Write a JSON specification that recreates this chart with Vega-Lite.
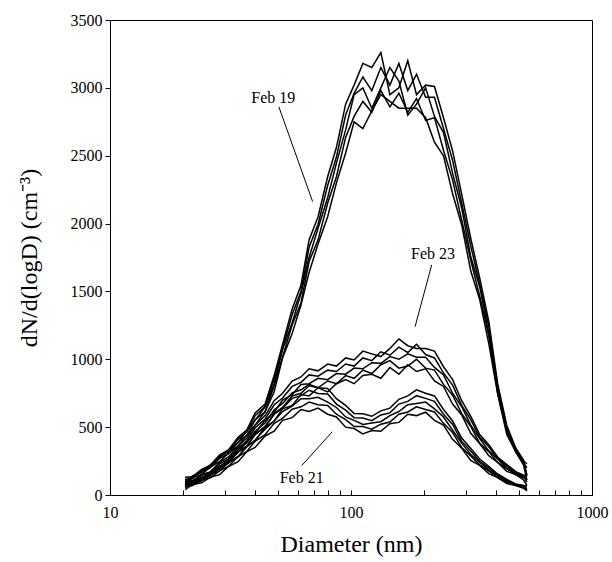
{
  "$schema": "https://vega.github.io/schema/vega-lite/v6.json",
  "width": 482,
  "height": 475,
  "autosize": {"type": "none"},
  "padding": {"left": 110, "top": 20, "right": 20, "bottom": 67},
  "background": "white",
  "config": {
    "view": {"stroke": "black", "strokeWidth": 1},
    "axis": {"domainColor": "black", "tickColor": "black", "grid": false}
  },
  "datasets": {
    "curves": [
      {"s":"19a","d":20.5,"v":80},{"s":"19a","d":22,"v":130},{"s":"19a","d":24,"v":150},{"s":"19a","d":26,"v":205},{"s":"19a","d":28.5,"v":245},{"s":"19a","d":31,"v":310},{"s":"19a","d":34,"v":360},{"s":"19a","d":37,"v":445},{"s":"19a","d":40,"v":515},{"s":"19a","d":44,"v":615},{"s":"19a","d":48,"v":760},{"s":"19a","d":52,"v":1010},{"s":"19a","d":57,"v":1190},{"s":"19a","d":62,"v":1400},{"s":"19a","d":67,"v":1640},{"s":"19a","d":73,"v":1850},{"s":"19a","d":80,"v":2050},{"s":"19a","d":87,"v":2300},{"s":"19a","d":95,"v":2520},{"s":"19a","d":103,"v":2750},{"s":"19a","d":112,"v":2700},{"s":"19a","d":122,"v":2830},{"s":"19a","d":133,"v":2950},{"s":"19a","d":145,"v":2900},{"s":"19a","d":158,"v":2850},{"s":"19a","d":172,"v":2850},{"s":"19a","d":187,"v":2850},{"s":"19a","d":204,"v":2780},{"s":"19a","d":222,"v":2600},{"s":"19a","d":242,"v":2500},{"s":"19a","d":264,"v":2220},{"s":"19a","d":288,"v":1990},{"s":"19a","d":314,"v":1650},{"s":"19a","d":342,"v":1440},{"s":"19a","d":373,"v":1115},{"s":"19a","d":406,"v":745},{"s":"19a","d":443,"v":445},{"s":"19a","d":483,"v":318},{"s":"19a","d":520,"v":220},{"s":"19a","d":537,"v":110},
      {"s":"19b","d":20.5,"v":110},{"s":"19b","d":22,"v":120},{"s":"19b","d":24,"v":172},{"s":"19b","d":26,"v":198},{"s":"19b","d":28.5,"v":270},{"s":"19b","d":31,"v":302},{"s":"19b","d":34,"v":388},{"s":"19b","d":37,"v":440},{"s":"19b","d":40,"v":555},{"s":"19b","d":44,"v":612},{"s":"19b","d":48,"v":805},{"s":"19b","d":52,"v":1015},{"s":"19b","d":57,"v":1255},{"s":"19b","d":62,"v":1415},{"s":"19b","d":67,"v":1720},{"s":"19b","d":73,"v":1880},{"s":"19b","d":80,"v":2150},{"s":"19b","d":87,"v":2345},{"s":"19b","d":95,"v":2635},{"s":"19b","d":103,"v":2790},{"s":"19b","d":112,"v":2900},{"s":"19b","d":122,"v":2820},{"s":"19b","d":133,"v":2980},{"s":"19b","d":145,"v":2860},{"s":"19b","d":158,"v":2960},{"s":"19b","d":172,"v":2820},{"s":"19b","d":187,"v":2920},{"s":"19b","d":204,"v":2760},{"s":"19b","d":222,"v":2780},{"s":"19b","d":242,"v":2540},{"s":"19b","d":264,"v":2320},{"s":"19b","d":288,"v":2025},{"s":"19b","d":314,"v":1730},{"s":"19b","d":342,"v":1465},{"s":"19b","d":373,"v":1175},{"s":"19b","d":406,"v":750},{"s":"19b","d":443,"v":470},{"s":"19b","d":483,"v":315},{"s":"19b","d":520,"v":238},{"s":"19b","d":537,"v":200},
      {"s":"19c","d":20.5,"v":95},{"s":"19c","d":22,"v":140},{"s":"19c","d":24,"v":165},{"s":"19c","d":26,"v":220},{"s":"19c","d":28.5,"v":275},{"s":"19c","d":31,"v":325},{"s":"19c","d":34,"v":385},{"s":"19c","d":37,"v":475},{"s":"19c","d":40,"v":550},{"s":"19c","d":44,"v":650},{"s":"19c","d":48,"v":815},{"s":"19c","d":52,"v":1070},{"s":"19c","d":57,"v":1270},{"s":"19c","d":62,"v":1485},{"s":"19c","d":67,"v":1750},{"s":"19c","d":73,"v":1965},{"s":"19c","d":80,"v":2190},{"s":"19c","d":87,"v":2445},{"s":"19c","d":95,"v":2690},{"s":"19c","d":103,"v":2950},{"s":"19c","d":112,"v":3000},{"s":"19c","d":122,"v":2850},{"s":"19c","d":133,"v":3000},{"s":"19c","d":145,"v":3150},{"s":"19c","d":158,"v":3050},{"s":"19c","d":172,"v":2800},{"s":"19c","d":187,"v":2880},{"s":"19c","d":204,"v":3000},{"s":"19c","d":222,"v":2790},{"s":"19c","d":242,"v":2670},{"s":"19c","d":264,"v":2370},{"s":"19c","d":288,"v":2115},{"s":"19c","d":314,"v":1755},{"s":"19c","d":342,"v":1535},{"s":"19c","d":373,"v":1190},{"s":"19c","d":406,"v":795},{"s":"19c","d":443,"v":475},{"s":"19c","d":483,"v":338},{"s":"19c","d":520,"v":235},{"s":"19c","d":537,"v":150},
      {"s":"19d","d":20.5,"v":115},{"s":"19d","d":22,"v":128},{"s":"19d","d":24,"v":182},{"s":"19d","d":26,"v":210},{"s":"19d","d":28.5,"v":285},{"s":"19d","d":31,"v":322},{"s":"19d","d":34,"v":410},{"s":"19d","d":37,"v":468},{"s":"19d","d":40,"v":585},{"s":"19d","d":44,"v":652},{"s":"19d","d":48,"v":855},{"s":"19d","d":52,"v":1080},{"s":"19d","d":57,"v":1330},{"s":"19d","d":62,"v":1500},{"s":"19d","d":67,"v":1825},{"s":"19d","d":73,"v":1995},{"s":"19d","d":80,"v":2280},{"s":"19d","d":87,"v":2490},{"s":"19d","d":95,"v":2800},{"s":"19d","d":103,"v":2960},{"s":"19d","d":112,"v":3080},{"s":"19d","d":122,"v":2980},{"s":"19d","d":133,"v":3150},{"s":"19d","d":145,"v":3020},{"s":"19d","d":158,"v":3180},{"s":"19d","d":172,"v":2980},{"s":"19d","d":187,"v":3100},{"s":"19d","d":204,"v":2930},{"s":"19d","d":222,"v":2930},{"s":"19d","d":242,"v":2700},{"s":"19d","d":264,"v":2465},{"s":"19d","d":288,"v":2150},{"s":"19d","d":314,"v":1835},{"s":"19d","d":342,"v":1555},{"s":"19d","d":373,"v":1245},{"s":"19d","d":406,"v":795},{"s":"19d","d":443,"v":498},{"s":"19d","d":483,"v":335},{"s":"19d","d":520,"v":250},{"s":"19d","d":537,"v":230},
      {"s":"19e","d":20.5,"v":130},{"s":"19e","d":22,"v":135},{"s":"19e","d":24,"v":188},{"s":"19e","d":26,"v":218},{"s":"19e","d":28.5,"v":295},{"s":"19e","d":31,"v":332},{"s":"19e","d":34,"v":425},{"s":"19e","d":37,"v":480},{"s":"19e","d":40,"v":605},{"s":"19e","d":44,"v":670},{"s":"19e","d":48,"v":880},{"s":"19e","d":52,"v":1110},{"s":"19e","d":57,"v":1370},{"s":"19e","d":62,"v":1545},{"s":"19e","d":67,"v":1880},{"s":"19e","d":73,"v":2050},{"s":"19e","d":80,"v":2345},{"s":"19e","d":87,"v":2560},{"s":"19e","d":95,"v":2880},{"s":"19e","d":103,"v":3020},{"s":"19e","d":112,"v":3180},{"s":"19e","d":122,"v":3150},{"s":"19e","d":133,"v":3260},{"s":"19e","d":145,"v":2950},{"s":"19e","d":158,"v":3000},{"s":"19e","d":172,"v":3200},{"s":"19e","d":187,"v":2950},{"s":"19e","d":204,"v":3020},{"s":"19e","d":222,"v":3010},{"s":"19e","d":242,"v":2780},{"s":"19e","d":264,"v":2535},{"s":"19e","d":288,"v":2215},{"s":"19e","d":314,"v":1890},{"s":"19e","d":342,"v":1600},{"s":"19e","d":373,"v":1280},{"s":"19e","d":406,"v":820},{"s":"19e","d":443,"v":512},{"s":"19e","d":483,"v":345},{"s":"19e","d":520,"v":258},{"s":"19e","d":537,"v":140},
      {"s":"23a","d":20.5,"v":60},{"s":"23a","d":22,"v":95},{"s":"23a","d":24,"v":110},{"s":"23a","d":26,"v":150},{"s":"23a","d":28.5,"v":180},{"s":"23a","d":31,"v":240},{"s":"23a","d":34,"v":280},{"s":"23a","d":37,"v":360},{"s":"23a","d":40,"v":400},{"s":"23a","d":44,"v":500},{"s":"23a","d":48,"v":545},{"s":"23a","d":52,"v":635},{"s":"23a","d":57,"v":660},{"s":"23a","d":62,"v":740},{"s":"23a","d":67,"v":730},{"s":"23a","d":73,"v":790},{"s":"23a","d":80,"v":760},{"s":"23a","d":87,"v":820},{"s":"23a","d":95,"v":850},{"s":"23a","d":103,"v":820},{"s":"23a","d":112,"v":880},{"s":"23a","d":122,"v":890},{"s":"23a","d":133,"v":860},{"s":"23a","d":145,"v":940},{"s":"23a","d":158,"v":890},{"s":"23a","d":172,"v":960},{"s":"23a","d":187,"v":910},{"s":"23a","d":204,"v":930},{"s":"23a","d":222,"v":840},{"s":"23a","d":242,"v":800},{"s":"23a","d":264,"v":670},{"s":"23a","d":288,"v":590},{"s":"23a","d":314,"v":455},{"s":"23a","d":342,"v":380},{"s":"23a","d":373,"v":290},{"s":"23a","d":406,"v":240},{"s":"23a","d":443,"v":175},{"s":"23a","d":483,"v":150},{"s":"23a","d":520,"v":112},{"s":"23a","d":537,"v":70},
      {"s":"23b","d":20.5,"v":85},{"s":"23b","d":22,"v":90},{"s":"23b","d":24,"v":130},{"s":"23b","d":26,"v":145},{"s":"23b","d":28.5,"v":210},{"s":"23b","d":31,"v":240},{"s":"23b","d":34,"v":315},{"s":"23b","d":37,"v":360},{"s":"23b","d":40,"v":450},{"s":"23b","d":44,"v":505},{"s":"23b","d":48,"v":600},{"s":"23b","d":52,"v":645},{"s":"23b","d":57,"v":730},{"s":"23b","d":62,"v":750},{"s":"23b","d":67,"v":805},{"s":"23b","d":73,"v":790},{"s":"23b","d":80,"v":840},{"s":"23b","d":87,"v":820},{"s":"23b","d":95,"v":880},{"s":"23b","d":103,"v":860},{"s":"23b","d":112,"v":920},{"s":"23b","d":122,"v":895},{"s":"23b","d":133,"v":960},{"s":"23b","d":145,"v":990},{"s":"23b","d":158,"v":935},{"s":"23b","d":172,"v":950},{"s":"23b","d":187,"v":1000},{"s":"23b","d":204,"v":935},{"s":"23b","d":222,"v":920},{"s":"23b","d":242,"v":815},{"s":"23b","d":264,"v":735},{"s":"23b","d":288,"v":600},{"s":"23b","d":314,"v":505},{"s":"23b","d":342,"v":380},{"s":"23b","d":373,"v":320},{"s":"23b","d":406,"v":240},{"s":"23b","d":443,"v":195},{"s":"23b","d":483,"v":148},{"s":"23b","d":520,"v":128},{"s":"23b","d":537,"v":120},
      {"s":"23c","d":20.5,"v":70},{"s":"23c","d":22,"v":105},{"s":"23c","d":24,"v":125},{"s":"23c","d":26,"v":165},{"s":"23c","d":28.5,"v":205},{"s":"23c","d":31,"v":265},{"s":"23c","d":34,"v":315},{"s":"23c","d":37,"v":395},{"s":"23c","d":40,"v":455},{"s":"23c","d":44,"v":550},{"s":"23c","d":48,"v":610},{"s":"23c","d":52,"v":700},{"s":"23c","d":57,"v":740},{"s":"23c","d":62,"v":815},{"s":"23c","d":67,"v":820},{"s":"23c","d":73,"v":860},{"s":"23c","d":80,"v":850},{"s":"23c","d":87,"v":895},{"s":"23c","d":95,"v":890},{"s":"23c","d":103,"v":935},{"s":"23c","d":112,"v":930},{"s":"23c","d":122,"v":975},{"s":"23c","d":133,"v":970},{"s":"23c","d":145,"v":1020},{"s":"23c","d":158,"v":1000},{"s":"23c","d":172,"v":1040},{"s":"23c","d":187,"v":1015},{"s":"23c","d":204,"v":1015},{"s":"23c","d":222,"v":940},{"s":"23c","d":242,"v":885},{"s":"23c","d":264,"v":750},{"s":"23c","d":288,"v":650},{"s":"23c","d":314,"v":515},{"s":"23c","d":342,"v":415},{"s":"23c","d":373,"v":325},{"s":"23c","d":406,"v":265},{"s":"23c","d":443,"v":198},{"s":"23c","d":483,"v":162},{"s":"23c","d":520,"v":128},{"s":"23c","d":537,"v":140},
      {"s":"23d","d":20.5,"v":95},{"s":"23d","d":22,"v":100},{"s":"23d","d":24,"v":145},{"s":"23d","d":26,"v":160},{"s":"23d","d":28.5,"v":230},{"s":"23d","d":31,"v":265},{"s":"23d","d":34,"v":345},{"s":"23d","d":37,"v":400},{"s":"23d","d":40,"v":495},{"s":"23d","d":44,"v":560},{"s":"23d","d":48,"v":665},{"s":"23d","d":52,"v":715},{"s":"23d","d":57,"v":800},{"s":"23d","d":62,"v":830},{"s":"23d","d":67,"v":885},{"s":"23d","d":73,"v":875},{"s":"23d","d":80,"v":920},{"s":"23d","d":87,"v":910},{"s":"23d","d":95,"v":965},{"s":"23d","d":103,"v":950},{"s":"23d","d":112,"v":1010},{"s":"23d","d":122,"v":990},{"s":"23d","d":133,"v":1055},{"s":"23d","d":145,"v":1030},{"s":"23d","d":158,"v":1090},{"s":"23d","d":172,"v":1050},{"s":"23d","d":187,"v":1110},{"s":"23d","d":204,"v":1035},{"s":"23d","d":222,"v":1010},{"s":"23d","d":242,"v":900},{"s":"23d","d":264,"v":810},{"s":"23d","d":288,"v":660},{"s":"23d","d":314,"v":555},{"s":"23d","d":342,"v":425},{"s":"23d","d":373,"v":355},{"s":"23d","d":406,"v":268},{"s":"23d","d":443,"v":215},{"s":"23d","d":483,"v":165},{"s":"23d","d":520,"v":140},{"s":"23d","d":537,"v":95},
      {"s":"23e","d":20.5,"v":110},{"s":"23e","d":22,"v":105},{"s":"23e","d":24,"v":150},{"s":"23e","d":26,"v":170},{"s":"23e","d":28.5,"v":240},{"s":"23e","d":31,"v":280},{"s":"23e","d":34,"v":360},{"s":"23e","d":37,"v":420},{"s":"23e","d":40,"v":515},{"s":"23e","d":44,"v":585},{"s":"23e","d":48,"v":695},{"s":"23e","d":52,"v":750},{"s":"23e","d":57,"v":840},{"s":"23e","d":62,"v":870},{"s":"23e","d":67,"v":930},{"s":"23e","d":73,"v":915},{"s":"23e","d":80,"v":965},{"s":"23e","d":87,"v":950},{"s":"23e","d":95,"v":1010},{"s":"23e","d":103,"v":995},{"s":"23e","d":112,"v":1060},{"s":"23e","d":122,"v":1040},{"s":"23e","d":133,"v":1020},{"s":"23e","d":145,"v":1080},{"s":"23e","d":158,"v":1150},{"s":"23e","d":172,"v":1100},{"s":"23e","d":187,"v":1080},{"s":"23e","d":204,"v":1080},{"s":"23e","d":222,"v":1060},{"s":"23e","d":242,"v":945},{"s":"23e","d":264,"v":850},{"s":"23e","d":288,"v":695},{"s":"23e","d":314,"v":580},{"s":"23e","d":342,"v":445},{"s":"23e","d":373,"v":370},{"s":"23e","d":406,"v":280},{"s":"23e","d":443,"v":225},{"s":"23e","d":483,"v":172},{"s":"23e","d":520,"v":146},{"s":"23e","d":537,"v":150},
      {"s":"21a","d":20.5,"v":40},{"s":"21a","d":22,"v":78},{"s":"21a","d":24,"v":90},{"s":"21a","d":26,"v":130},{"s":"21a","d":28.5,"v":150},{"s":"21a","d":31,"v":210},{"s":"21a","d":34,"v":245},{"s":"21a","d":37,"v":320},{"s":"21a","d":40,"v":350},{"s":"21a","d":44,"v":435},{"s":"21a","d":48,"v":470},{"s":"21a","d":52,"v":550},{"s":"21a","d":57,"v":570},{"s":"21a","d":62,"v":630},{"s":"21a","d":67,"v":615},{"s":"21a","d":73,"v":640},{"s":"21a","d":80,"v":595},{"s":"21a","d":87,"v":575},{"s":"21a","d":95,"v":500},{"s":"21a","d":103,"v":490},{"s":"21a","d":112,"v":450},{"s":"21a","d":122,"v":475},{"s":"21a","d":133,"v":470},{"s":"21a","d":145,"v":525},{"s":"21a","d":158,"v":535},{"s":"21a","d":172,"v":595},{"s":"21a","d":187,"v":585},{"s":"21a","d":204,"v":610},{"s":"21a","d":222,"v":550},{"s":"21a","d":242,"v":515},{"s":"21a","d":264,"v":410},{"s":"21a","d":288,"v":345},{"s":"21a","d":314,"v":255},{"s":"21a","d":342,"v":218},{"s":"21a","d":373,"v":158},{"s":"21a","d":406,"v":128},{"s":"21a","d":443,"v":84},{"s":"21a","d":483,"v":70},{"s":"21a","d":520,"v":50},{"s":"21a","d":537,"v":30},
      {"s":"21b","d":20.5,"v":65},{"s":"21b","d":22,"v":70},{"s":"21b","d":24,"v":110},{"s":"21b","d":26,"v":125},{"s":"21b","d":28.5,"v":178},{"s":"21b","d":31,"v":210},{"s":"21b","d":34,"v":282},{"s":"21b","d":37,"v":322},{"s":"21b","d":40,"v":395},{"s":"21b","d":44,"v":445},{"s":"21b","d":48,"v":528},{"s":"21b","d":52,"v":565},{"s":"21b","d":57,"v":632},{"s":"21b","d":62,"v":650},{"s":"21b","d":67,"v":685},{"s":"21b","d":73,"v":665},{"s":"21b","d":80,"v":660},{"s":"21b","d":87,"v":595},{"s":"21b","d":95,"v":555},{"s":"21b","d":103,"v":505},{"s":"21b","d":112,"v":505},{"s":"21b","d":122,"v":485},{"s":"21b","d":133,"v":522},{"s":"21b","d":145,"v":538},{"s":"21b","d":158,"v":595},{"s":"21b","d":172,"v":612},{"s":"21b","d":187,"v":650},{"s":"21b","d":204,"v":630},{"s":"21b","d":222,"v":612},{"s":"21b","d":242,"v":528},{"s":"21b","d":264,"v":460},{"s":"21b","d":288,"v":350},{"s":"21b","d":314,"v":288},{"s":"21b","d":342,"v":222},{"s":"21b","d":373,"v":178},{"s":"21b","d":406,"v":129},{"s":"21b","d":443,"v":96},{"s":"21b","d":483,"v":69},{"s":"21b","d":520,"v":58},{"s":"21b","d":537,"v":60},
      {"s":"21c","d":20.5,"v":55},{"s":"21c","d":22,"v":85},{"s":"21c","d":24,"v":105},{"s":"21c","d":26,"v":145},{"s":"21c","d":28.5,"v":185},{"s":"21c","d":31,"v":235},{"s":"21c","d":34,"v":285},{"s":"21c","d":37,"v":355},{"s":"21c","d":40,"v":405},{"s":"21c","d":44,"v":485},{"s":"21c","d":48,"v":545},{"s":"21c","d":52,"v":615},{"s":"21c","d":57,"v":655},{"s":"21c","d":62,"v":710},{"s":"21c","d":67,"v":710},{"s":"21c","d":73,"v":720},{"s":"21c","d":80,"v":685},{"s":"21c","d":87,"v":645},{"s":"21c","d":95,"v":575},{"s":"21c","d":103,"v":550},{"s":"21c","d":112,"v":520},{"s":"21c","d":122,"v":530},{"s":"21c","d":133,"v":540},{"s":"21c","d":145,"v":585},{"s":"21c","d":158,"v":615},{"s":"21c","d":172,"v":665},{"s":"21c","d":187,"v":675},{"s":"21c","d":204,"v":685},{"s":"21c","d":222,"v":635},{"s":"21c","d":242,"v":575},{"s":"21c","d":264,"v":478},{"s":"21c","d":288,"v":382},{"s":"21c","d":314,"v":298},{"s":"21c","d":342,"v":242},{"s":"21c","d":373,"v":183},{"s":"21c","d":406,"v":142},{"s":"21c","d":443,"v":99},{"s":"21c","d":483,"v":76},{"s":"21c","d":520,"v":59},{"s":"21c","d":537,"v":45},
      {"s":"21d","d":20.5,"v":75},{"s":"21d","d":22,"v":80},{"s":"21d","d":24,"v":125},{"s":"21d","d":26,"v":142},{"s":"21d","d":28.5,"v":200},{"s":"21d","d":31,"v":238},{"s":"21d","d":34,"v":318},{"s":"21d","d":37,"v":362},{"s":"21d","d":40,"v":445},{"s":"21d","d":44,"v":500},{"s":"21d","d":48,"v":595},{"s":"21d","d":52,"v":640},{"s":"21d","d":57,"v":712},{"s":"21d","d":62,"v":732},{"s":"21d","d":67,"v":772},{"s":"21d","d":73,"v":748},{"s":"21d","d":80,"v":745},{"s":"21d","d":87,"v":670},{"s":"21d","d":95,"v":625},{"s":"21d","d":103,"v":570},{"s":"21d","d":112,"v":568},{"s":"21d","d":122,"v":548},{"s":"21d","d":133,"v":590},{"s":"21d","d":145,"v":605},{"s":"21d","d":158,"v":670},{"s":"21d","d":172,"v":690},{"s":"21d","d":187,"v":732},{"s":"21d","d":204,"v":712},{"s":"21d","d":222,"v":690},{"s":"21d","d":242,"v":595},{"s":"21d","d":264,"v":520},{"s":"21d","d":288,"v":395},{"s":"21d","d":314,"v":325},{"s":"21d","d":342,"v":248},{"s":"21d","d":373,"v":200},{"s":"21d","d":406,"v":145},{"s":"21d","d":443,"v":108},{"s":"21d","d":483,"v":78},{"s":"21d","d":520,"v":66},{"s":"21d","d":537,"v":70},
      {"s":"21e","d":20.5,"v":90},{"s":"21e","d":22,"v":85},{"s":"21e","d":24,"v":130},{"s":"21e","d":26,"v":150},{"s":"21e","d":28.5,"v":212},{"s":"21e","d":31,"v":250},{"s":"21e","d":34,"v":335},{"s":"21e","d":37,"v":385},{"s":"21e","d":40,"v":470},{"s":"21e","d":44,"v":530},{"s":"21e","d":48,"v":628},{"s":"21e","d":52,"v":675},{"s":"21e","d":57,"v":752},{"s":"21e","d":62,"v":775},{"s":"21e","d":67,"v":815},{"s":"21e","d":73,"v":790},{"s":"21e","d":80,"v":785},{"s":"21e","d":87,"v":710},{"s":"21e","d":95,"v":660},{"s":"21e","d":103,"v":600},{"s":"21e","d":112,"v":598},{"s":"21e","d":122,"v":580},{"s":"21e","d":133,"v":620},{"s":"21e","d":145,"v":640},{"s":"21e","d":158,"v":705},{"s":"21e","d":172,"v":730},{"s":"21e","d":187,"v":775},{"s":"21e","d":204,"v":750},{"s":"21e","d":222,"v":730},{"s":"21e","d":242,"v":630},{"s":"21e","d":264,"v":545},{"s":"21e","d":288,"v":420},{"s":"21e","d":314,"v":342},{"s":"21e","d":342,"v":265},{"s":"21e","d":373,"v":212},{"s":"21e","d":406,"v":155},{"s":"21e","d":443,"v":115},{"s":"21e","d":483,"v":82},{"s":"21e","d":520,"v":70},{"s":"21e","d":537,"v":35}
    ],
    "pointers": [
      {"x": 50.2, "y": 2860, "x2": 69.3, "y2": 2162},
      {"x": 216.2, "y": 1695, "x2": 184.4, "y2": 1240},
      {"x": 62.4, "y": 216, "x2": 83.6, "y2": 466}
    ],
    "labels": [
      {"x": 47.6, "y": 2925, "t": "Feb 19"},
      {"x": 219, "y": 1776, "t": "Feb 23"},
      {"x": 62.4, "y": 122, "t": "Feb 21"}
    ]
  },
  "layer": [
    {
      "data": {"name": "curves"},
      "mark": {"type": "line", "color": "black", "strokeWidth": 1.5, "clip": true},
      "encoding": {
        "x": {
          "field": "d", "type": "quantitative",
          "scale": {"type": "log", "domain": [10, 1000], "nice": false},
          "axis": {
            "title": "Diameter (nm)",
            "values": [10, 20, 30, 40, 50, 60, 70, 80, 90, 100, 200, 300, 400, 500, 600, 700, 800, 900, 1000],
            "labelExpr": "datum.value == 10 || datum.value == 100 || datum.value == 1000 ? '' + datum.value : ''",
            "labelFont": "Liberation Serif", "labelFontSize": 16, "labelColor": "black",
            "titleFont": "Liberation Serif", "titleFontSize": 24, "titleFontWeight": "normal", "titleColor": "black",
            "tickSize": -5,
            "labelPadding": 14,
            "labelFlush": false,
            "labelOverlap": false,
            "titlePadding": 12
          }
        },
        "y": {
          "field": "v", "type": "quantitative",
          "scale": {"domain": [0, 3500], "nice": false},
          "axis": {
            "title": "dN/d(logD) (cm⁻³)",
            "values": [0, 500, 1000, 1500, 2000, 2500, 3000, 3500],
            "format": "d",
            "labelFont": "Liberation Serif", "labelFontSize": 16, "labelColor": "black",
            "titleFont": "Liberation Serif", "titleFontSize": 24, "titleFontWeight": "normal", "titleColor": "black",
            "tickSize": 5,
            "labelPadding": 3,
            "titlePadding": 29
          }
        },
        "detail": {"field": "s"}
      }
    },
    {
      "data": {"name": "pointers"},
      "mark": {"type": "rule", "color": "black", "strokeWidth": 1},
      "encoding": {
        "x": {"field": "x", "type": "quantitative"},
        "y": {"field": "y", "type": "quantitative"},
        "x2": {"field": "x2"},
        "y2": {"field": "y2"}
      }
    },
    {
      "data": {"name": "labels"},
      "mark": {"type": "text", "font": "Liberation Serif", "fontSize": 16, "color": "black", "align": "center", "baseline": "middle"},
      "encoding": {
        "x": {"field": "x", "type": "quantitative"},
        "y": {"field": "y", "type": "quantitative"},
        "text": {"field": "t"}
      }
    }
  ]
}
